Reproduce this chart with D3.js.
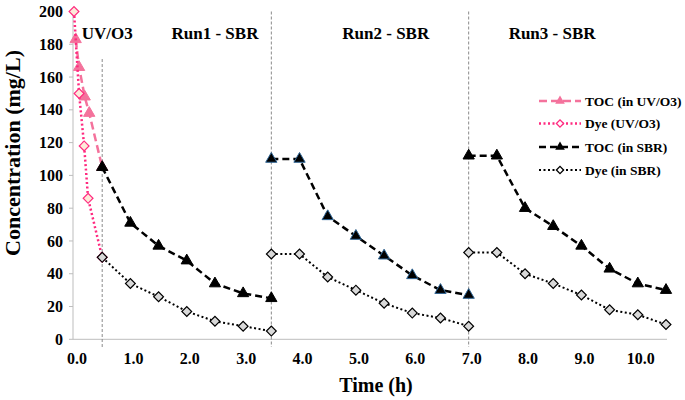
<!DOCTYPE html>
<html><head><meta charset="utf-8">
<script src="https://cdn.jsdelivr.net/npm/d3@7"></script>
<style>body{margin:0;background:#fff}svg{display:block}</style>
</head><body>
<svg id="c" width="685" height="400"></svg>
<script>
// ---- data ----
const tocUvTime = [0.03, 0.09, 0.19, 0.27, 0.5];
const tocUvVal  = [183, 166, 148, 138, 105];
const dyeUvTime = [0, 0.09, 0.18, 0.25, 0.5];
const dyeUvVal  = [200, 150, 118, 86, 50];
const run1Time = [0.5, 1.0, 1.5, 2.0, 2.5, 3.0, 3.5];
const run1Toc  = [105, 71, 57, 48, 34, 28, 25];
const run1Dye  = [50, 34, 26, 17, 11, 8, 5];
const run2Time = [3.5, 4.0, 4.5, 5.0, 5.5, 6.0, 6.5, 7.0];
const run2Toc  = [110, 110, 75, 63, 51, 39, 30, 27];
const run2Dye  = [52, 52, 38, 30, 22, 16, 13, 8];
const run3Time = [7.0, 7.5, 8.0, 8.5, 9.0, 9.5, 10.0, 10.5];
const run3Toc  = [112, 112, 80, 69, 57, 43, 34, 30];
const run3Dye  = [53, 53, 40, 34, 27, 18, 15, 9];
const xTicks = [0,1,2,3,4,5,6,7,8,9,10];
const yTicks = [0,20,40,60,80,100,120,140,160,180,200];
const phaseLabels = ["UV/O3", "Run1 - SBR", "Run2 - SBR", "Run3 - SBR"];
const phaseLabelX = [0.59, 2.5, 5.53, 8.48];
const dividerX = [0.5, 3.5, 7.0];
const dividerTop = [171, 200, 200];
const legendLabels = ["TOC (in UV/O3)", "Dye (UV/O3)", "TOC (in SBR)", "Dye (in SBR)"];

// ---- setup ----
const svg = d3.select("#c");
const font = "'Liberation Serif','Times New Roman',serif";
const x = d3.scaleLinear().domain([0, 10.5]).range([74, 666]);
const y = d3.scaleLinear().domain([0, 200]).range([339.3, 11.5]);

const PINK = "#f4729c", HOT = "#ff2a7f", PEACH = "#fde9d9";
const styles = {
  tocUv: {stroke: PINK, dash: "8,4", width: 2.5},
  dyeUv: {stroke: HOT, dash: "2,2.5", width: 2.5},
  tocSbr: {stroke: "#000", dash: "7,4", width: 2.5},
  dyeSbr: {stroke: "#000", dash: "2,2.5", width: 2}
};

// axes
svg.append("line").attr("x1", 73).attr("x2", 73).attr("y1", y(200)).attr("y2", y(0))
  .attr("stroke", "#bdbdbd").attr("stroke-width", 1);
svg.append("line").attr("x1", 73).attr("x2", 667).attr("y1", y(0)).attr("y2", y(0))
  .attr("stroke", "#bdbdbd").attr("stroke-width", 1);
svg.selectAll(".yt").data(yTicks).enter().append("line")
  .attr("x1", 69).attr("x2", 73).attr("y1", d => y(d)).attr("y2", d => y(d))
  .attr("stroke", "#bdbdbd");
svg.selectAll(".ytl").data(yTicks).enter().append("text")
  .attr("x", 63).attr("y", d => y(d)).attr("dy", "0.35em").attr("text-anchor", "end")
  .attr("font-family", font).attr("font-weight", "bold").attr("font-size", 16)
  .text(d => d);
svg.selectAll(".xtl").data(xTicks).enter().append("text")
  .attr("x", d => x(d) + 3).attr("y", 358).attr("dy", "0.35em").attr("text-anchor", "middle")
  .attr("font-family", font).attr("font-weight", "bold").attr("font-size", 16)
  .text(d => d.toFixed(1));
svg.append("text").attr("x", 376).attr("y", 392).attr("text-anchor", "middle")
  .attr("font-family", font).attr("font-weight", "bold").attr("font-size", 20).text("Time (h)");
svg.append("text").attr("transform", "translate(12,153) rotate(-90)").attr("dy", "0.35em")
  .attr("text-anchor", "middle").attr("font-family", font).attr("font-weight", "bold")
  .attr("font-size", 22).text("Concentration (mg/L)");

// dividers
dividerX.forEach((d, i) => {
  svg.append("line").attr("x1", x(d)).attr("x2", x(d)).attr("y1", y(dividerTop[i])).attr("y2", 347)
    .attr("stroke", "#8a8a8a").attr("stroke-width", 1).attr("stroke-dasharray", "3,2");
});

// phase labels
phaseLabels.forEach((t, i) => {
  svg.append("text").attr("x", x(phaseLabelX[i])).attr("y", 33).attr("dy", "0.35em")
    .attr("text-anchor", "middle").attr("font-family", font).attr("font-weight", "bold")
    .attr("font-size", 17).text(t);
});

const line = d3.line().x(d => x(d[0])).y(d => y(d[1]));
const zip = (a, b) => a.map((v, i) => [v, b[i]]);
const tri = d3.symbol().type(d3.symbolTriangle).size(55);
const dia = d3.symbol().type(d3.symbolSquare).size(48);

function drawLine(pts, st) {
  svg.append("path").attr("d", line(pts)).attr("fill", "none")
    .attr("stroke", st.stroke).attr("stroke-width", st.width).attr("stroke-dasharray", st.dash);
}
function drawTri(pts, fill, stroke) {
  svg.append("g").selectAll("path").data(pts).enter().append("path")
    .attr("d", tri).attr("transform", d => `translate(${x(d[0])},${y(d[1])})`)
    .attr("fill", fill).attr("stroke", stroke).attr("stroke-width", 1);
}
function drawDia(pts, fill, stroke) {
  svg.append("g").selectAll("path").data(pts).enter().append("path")
    .attr("d", dia).attr("transform", d => `translate(${x(d[0])},${y(d[1])}) rotate(45)`)
    .attr("fill", fill).attr("stroke", stroke).attr("stroke-width", 1.2);
}

// TOC UV/O3
const tocUv = zip(tocUvTime, tocUvVal);
drawLine(tocUv, styles.tocUv);
drawTri(tocUv, PINK, PINK);
// Dye UV/O3
const dyeUv = zip(dyeUvTime, dyeUvVal);
drawLine(dyeUv, styles.dyeUv);
drawDia(dyeUv, PEACH, HOT);
// TOC SBR
const runs = [[run1Time, run1Toc, run1Dye, "#000"], [run2Time, run2Toc, run2Dye, "#2e6494"], [run3Time, run3Toc, run3Dye, "#000"]];
runs.forEach(r => drawLine(zip(r[0], r[1]), styles.tocSbr));
runs.forEach(r => drawTri(zip(r[0], r[1]), "#000", r[3]));
// Dye SBR
runs.forEach(r => drawLine(zip(r[0], r[2]), styles.dyeSbr));
runs.forEach(r => drawDia(zip(r[0], r[2]), "#d9d9d9", "#000"));

// legend
const legY = [101, 123.5, 147, 170];
const legStyles = [styles.tocUv, styles.dyeUv, styles.tocSbr, styles.dyeSbr];
legendLabels.forEach((t, i) => {
  const g = svg.append("g");
  const st = legStyles[i];
  g.append("line").attr("x1", 539).attr("x2", 581).attr("y1", legY[i]).attr("y2", legY[i])
    .attr("stroke", st.stroke).attr("stroke-width", st.width).attr("stroke-dasharray", st.dash);
  if (i === 0 || i === 2) {
    g.append("path").attr("d", d3.symbol().type(d3.symbolTriangle).size(40)())
      .attr("transform", `translate(560,${legY[i]})`).attr("fill", st.stroke);
  } else {
    g.append("path").attr("d", d3.symbol().type(d3.symbolSquare).size(26)())
      .attr("transform", `translate(560,${legY[i]}) rotate(45)`)
      .attr("fill", "#fff").attr("stroke", st.stroke).attr("stroke-width", 1.3);
  }
  g.append("text").attr("x", 585).attr("y", legY[i]).attr("dy", "0.35em")
    .attr("font-family", font).attr("font-weight", "bold").attr("font-size", 13.5).text(t);
});
</script>
</body></html>
